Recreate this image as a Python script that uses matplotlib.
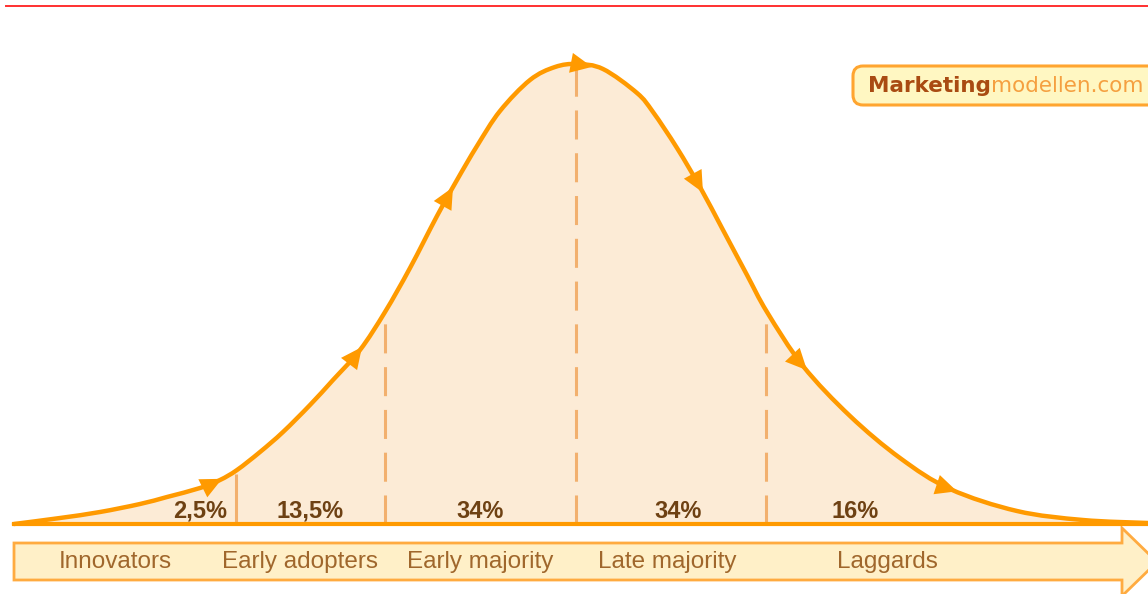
"""
Diffusion of innovations (Rogers) - adoption curve with adopter categories.
Saves out.png (1148x594).
"""

import numpy as np
import matplotlib
matplotlib.use("Agg")
import matplotlib.pyplot as plt
from matplotlib.path import Path
from matplotlib.patches import FancyArrowPatch, FancyBboxPatch, Polygon, PathPatch


# --- Data ---
# curve: position along the adoption axis vs height of the bell curve
curve_x = [14, 60, 100, 140, 167, 200, 220, 237, 260, 283, 310, 333, 360,
           385, 410, 437, 457, 477, 500, 530, 555, 577, 603, 637, 653, 677,
           700, 723, 747, 767, 803, 850, 900, 950, 1017, 1083, 1148]
curve_h = [0, 6, 12, 20, 27, 36, 44, 54, 72, 92, 119, 144, 174,
           212, 256, 308, 344, 378, 413, 444, 457, 460, 455, 431, 412, 376,
           337, 294, 249, 212, 158, 108, 66, 35, 13, 4, 1]

divider_x = [236, 385, 576, 766]
divider_dashed = [False, True, True, True]

shares = ["2,5%", "13,5%", "34%", "34%", "16%"]
share_x = [200, 310, 480, 678, 855]

categories = ["Innovators", "Early adopters", "Early majority",
              "Late majority", "Laggards"]
category_x = [115, 300, 480, 667, 887]

arrow_x = [222, 362, 453, 592, 703, 807, 957]

# --- Colours ---
ORANGE = "#ff9a00"
FILL = "#fcebd6"
DIVIDER = "#f2b06e"
BAND_FILL = "#fff0c8"
BAND_EDGE = "#ffab40"
SHARE_COLOR = "#6e4113"
CAT_COLOR = "#a0672c"


def smooth_verts(xs, ys):
    # Catmull-Rom through the read points, drawn as cubic Bezier segments
    pts = np.column_stack([xs, ys]).astype(float)
    verts = [pts[0]]
    codes = [Path.MOVETO]
    for i in range(len(pts) - 1):
        p0 = pts[i - 1] if i > 0 else pts[i]
        p1, p2 = pts[i], pts[i + 1]
        p3 = pts[i + 2] if i + 2 < len(pts) else pts[i + 1]
        verts += [p1 + (p2 - p0) / 6, p2 - (p3 - p1) / 6, p2]
        codes += [Path.CURVE4] * 3
    return verts, codes


def add_arrowhead(ax, x_tip):
    # arrowhead sitting on the curve, pointing along it
    h_tip = np.interp(x_tip, curve_x, curve_h)
    h_prev = np.interp(x_tip - 4, curve_x, curve_h)
    dx, dy = 4.0, h_tip - h_prev
    n = np.hypot(dx, dy)
    tail = (x_tip - 24 * dx / n, h_tip - 24 * dy / n)
    arr = FancyArrowPatch(tail, (x_tip, h_tip),
                          arrowstyle="-|>,head_length=0.7,head_width=0.33",
                          mutation_scale=22, color=ORANGE, lw=0,
                          shrinkA=0, shrinkB=0, zorder=6)
    ax.add_patch(arr)


def main():
    fig = plt.figure(figsize=(11.48, 5.94), dpi=100)
    ax = fig.add_axes([0, 0, 1, 1])
    # 1 data unit = 1 pixel, baseline at height 0
    ax.set_xlim(0, 1148)
    ax.set_ylim(-70, 524)
    ax.axis("off")

    # red rule at the top
    ax.plot([6, 1148], [518, 518], color="#ff3030", lw=1.4, zorder=1)

    # area under the curve
    verts, codes = smooth_verts(curve_x, curve_h)
    area = Path(verts + [(curve_x[-1], 0), (curve_x[0], 0), (curve_x[0], 0)],
                codes + [Path.LINETO, Path.LINETO, Path.CLOSEPOLY])
    ax.add_patch(PathPatch(area, facecolor=FILL, lw=0, zorder=1))

    # category dividers
    for x, dashed in zip(divider_x, divider_dashed):
        top = np.interp(x, curve_x, curve_h)
        ls = (0, (9.5, 4.5)) if dashed else "-"
        ax.plot([x, x], [0, top - 3], color=DIVIDER, lw=2.2, ls=ls,
                solid_capstyle="butt", zorder=2)

    # curve and baseline
    ax.add_patch(PathPatch(Path(verts, codes), facecolor="none",
                           edgecolor=ORANGE, lw=3.2, joinstyle="round",
                           capstyle="round", zorder=5))
    ax.plot([14, 1148], [0, 0], color=ORANGE, lw=3.0, zorder=5)

    for x in arrow_x:
        add_arrowhead(ax, x)

    # percentage labels
    for label, x in zip(shares, share_x):
        ax.text(x, 13, label, ha="center", va="center", fontsize=17,
                fontweight="bold", color=SHARE_COLOR,
                family="Liberation Sans", zorder=7)

    # big arrow band along the bottom
    band = Polygon([(14, -19), (1122, -19), (1122, -4), (1157, -38),
                    (1122, -72), (1122, -56), (14, -56)],
                   closed=True, facecolor=BAND_FILL, edgecolor=BAND_EDGE,
                   lw=2.0, joinstyle="miter", zorder=3)
    ax.add_patch(band)

    for label, x in zip(categories, category_x):
        ax.text(x, -38, label, ha="center", va="center", fontsize=17.5,
                color=CAT_COLOR, family="Liberation Sans", zorder=7)

    # logo
    logo = FancyBboxPatch((853, 419), 330, 39,
                          boxstyle="round,pad=0,rounding_size=10",
                          facecolor="#fff7c2", edgecolor="#ffa530",
                          lw=2.2, zorder=3)
    ax.add_patch(logo)
    t1 = ax.text(868, 438, "Marketing", ha="left", va="center",
                 fontsize=15.5, fontweight="bold", color="#a94b12",
                 family="DejaVu Sans", zorder=7)
    fig.canvas.draw()
    bb = t1.get_window_extent()
    x_end = ax.transData.inverted().transform((bb.x1, bb.y0))[0]
    ax.text(x_end, 438, "modellen.com", ha="left", va="center",
            fontsize=15.5, color="#f5a040", family="DejaVu Sans", zorder=7)

    fig.savefig("out.png", dpi=100)
    plt.close(fig)


if __name__ == "__main__":
    main()
